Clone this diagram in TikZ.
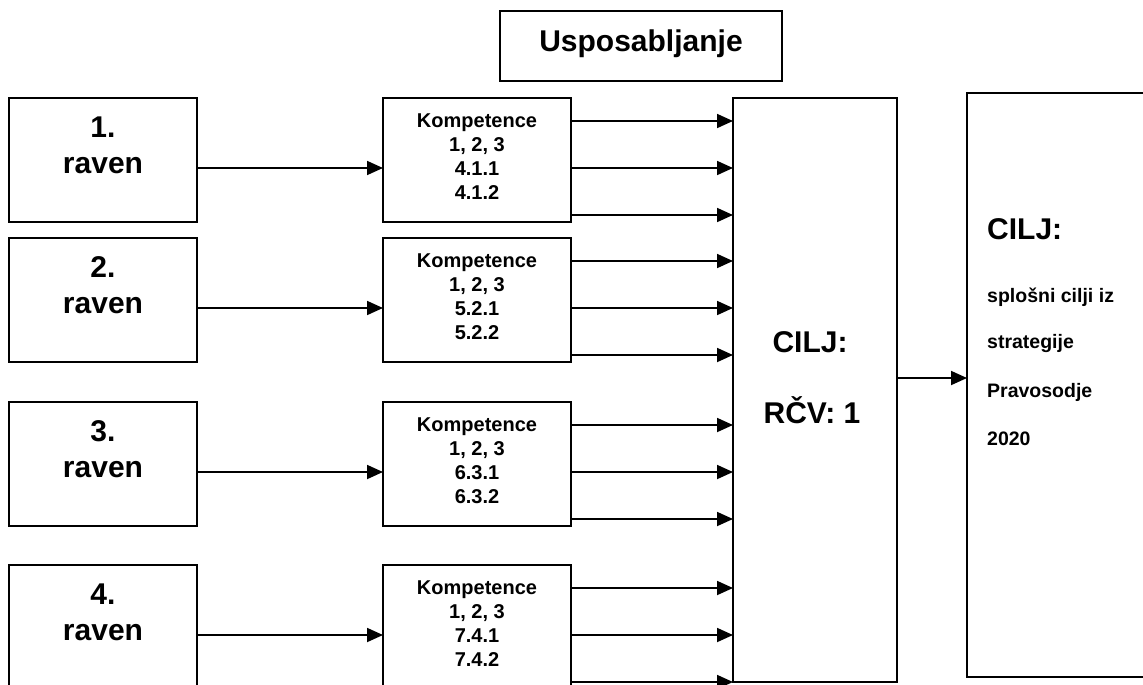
\documentclass[tikz,border=0pt]{standalone}
\usepackage{fontspec}
\setmainfont{Liberation Sans}
\usetikzlibrary{arrows.meta}
\begin{document}
\begin{tikzpicture}[x=1pt,y=-1pt,
  box/.style={draw, line width=1.8pt, rectangle, inner sep=0pt, outer sep=0pt, anchor=north west},
  link/.style={line width=1.8pt, -{Triangle[length=16pt,width=14pt]}},
  big/.style={font=\bfseries\fontsize{30}{36}\selectfont, anchor=base, inner sep=0pt},
  small/.style={font=\bfseries\fontsize{20}{24}\selectfont, anchor=base, inner sep=0pt},
  note/.style={font=\bfseries\fontsize{19.5}{24}\selectfont, anchor=base west, inner sep=0pt}]
\useasboundingbox (0,0) rectangle (1143,685);
\clip (0,0) rectangle (1143,685);

% title
\node[box, minimum width=282pt, minimum height=70pt] (top) at (500,11) {};
\node[big] (ttl) at (641,52) {Usposabljanje};

% goal boxes
\node[box, minimum width=164pt, minimum height=584pt] (goal) at (733,98) {};
\node[big] (g1) at (810,352) {CILJ:};
\node[big] (g2) at (812,423) {RČV: 1};

\node[box, minimum width=200pt, minimum height=584pt] (final) at (967,93) {};
\node[big, anchor=base west] (f0) at (987,239) {CILJ:};
\node[note] (f1) at (987,302) {splošni cilji iz};
\node[note] (f2) at (987,348) {strategije};
\node[note] (f3) at (987,397) {Pravosodje};
\node[note] (f4) at (987,445) {2020};

\coordinate (gout) at ([yshift=12pt]goal.east);
\draw[link] (gout) -- (gout -| final.west);

% levels and competences
\foreach \i/\t/\h/\a/\b in {1/98/124/4.1.1/4.1.2, 2/238/124/5.2.1/5.2.2, 3/402/124/6.3.1/6.3.2, 4/565/150/7.4.1/7.4.2}{
  \node[box, minimum width=188pt, minimum height=\h pt] (lv\i) at (9,\t) {};
  \node[big] (lvn\i) at (103,\t+39) {\i.};
  \node[big] (lvr\i) at (103,\t+75) {raven};
  \node[box, minimum width=188pt, minimum height=\h pt] (k\i) at (383,\t) {};
  \node[small] (ka\i) at (477,\t+29) {Kompetence};
  \node[small] (kb\i) at (477,\t+53) {1, 2, 3};
  \node[small] (kc\i) at (477,\t+77) {\a};
  \node[small] (kd\i) at (477,\t+101) {\b};
  \coordinate (in\i) at ([yshift=-70pt]lv\i.north east);
  \draw[link] (in\i) -- (in\i -| k\i.west);
  \foreach \d in {23,70,117}{
    \coordinate (o\i-\d) at ([yshift=-\d pt]k\i.north east);
    \draw[link] (o\i-\d) -- (o\i-\d -| goal.west);
  }
}
\end{tikzpicture}
\end{document}
